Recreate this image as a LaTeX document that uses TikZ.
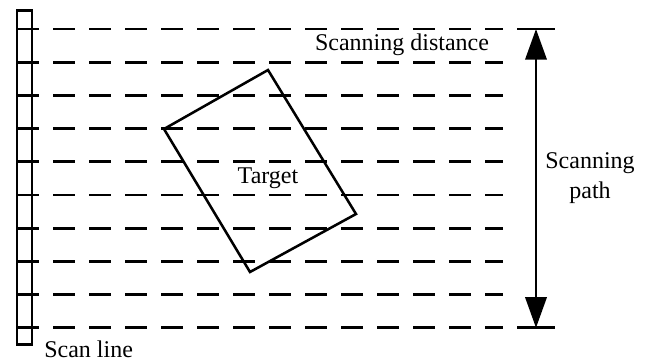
\documentclass[tikz,border=0pt]{standalone}
\usepackage{fontspec}
\setmainfont{Liberation Serif}
\usetikzlibrary{arrows.meta}
\begin{document}
\begin{tikzpicture}[x=0.75pt,y=-0.75pt,
  scanline/.style={line width=2pt, dash pattern=on 16.5pt off 10.5pt},
  outline/.style={line width=1.9pt, line join=miter},
  lbl/.style={font=\fontsize{18}{22}\selectfont, inner sep=0pt},
  dimarrow/.style={line width=1.9pt, {Triangle[width=16pt,length=23pt]}-{Triangle[width=16pt,length=23pt]}},
  tickline/.style={line width=2pt}]
\useasboundingbox (0,0) rectangle (668,362);
% scan line bar
\draw[outline] (17,10.5) rectangle (32,344.5);
% scanning lines
\foreach \k in {0,...,9} {
  \draw[scanline] (17,{29+33.2*\k}) -- (503,{29+33.2*\k});
}
% target
\coordinate (tt) at (268,70);
\coordinate (tl) at (164,129);
\coordinate (tb) at (250,272);
\coordinate (tr) at (356,214);
\draw[outline] (tt) -- (tl) -- (tb) -- (tr) -- cycle;
\node[lbl] (target) at (268,178) {Target};
% scanning path arrow
\coordinate (atop) at (536,29);
\coordinate (abot) at (536,327.8);
\draw[tickline] (517,29) -- (555,29);
\draw[tickline] (517,327.8) -- (555,327.8);
\draw[dimarrow] (atop) -- (abot);
% labels
\node[lbl, anchor=center] (dist) at (402,45) {Scanning distance};
\node[lbl, align=center] (path) at (590,178) {Scanning\\path};
\node[lbl, anchor=west] (scan) at (44,349) {Scan line};
\end{tikzpicture}
\end{document}
